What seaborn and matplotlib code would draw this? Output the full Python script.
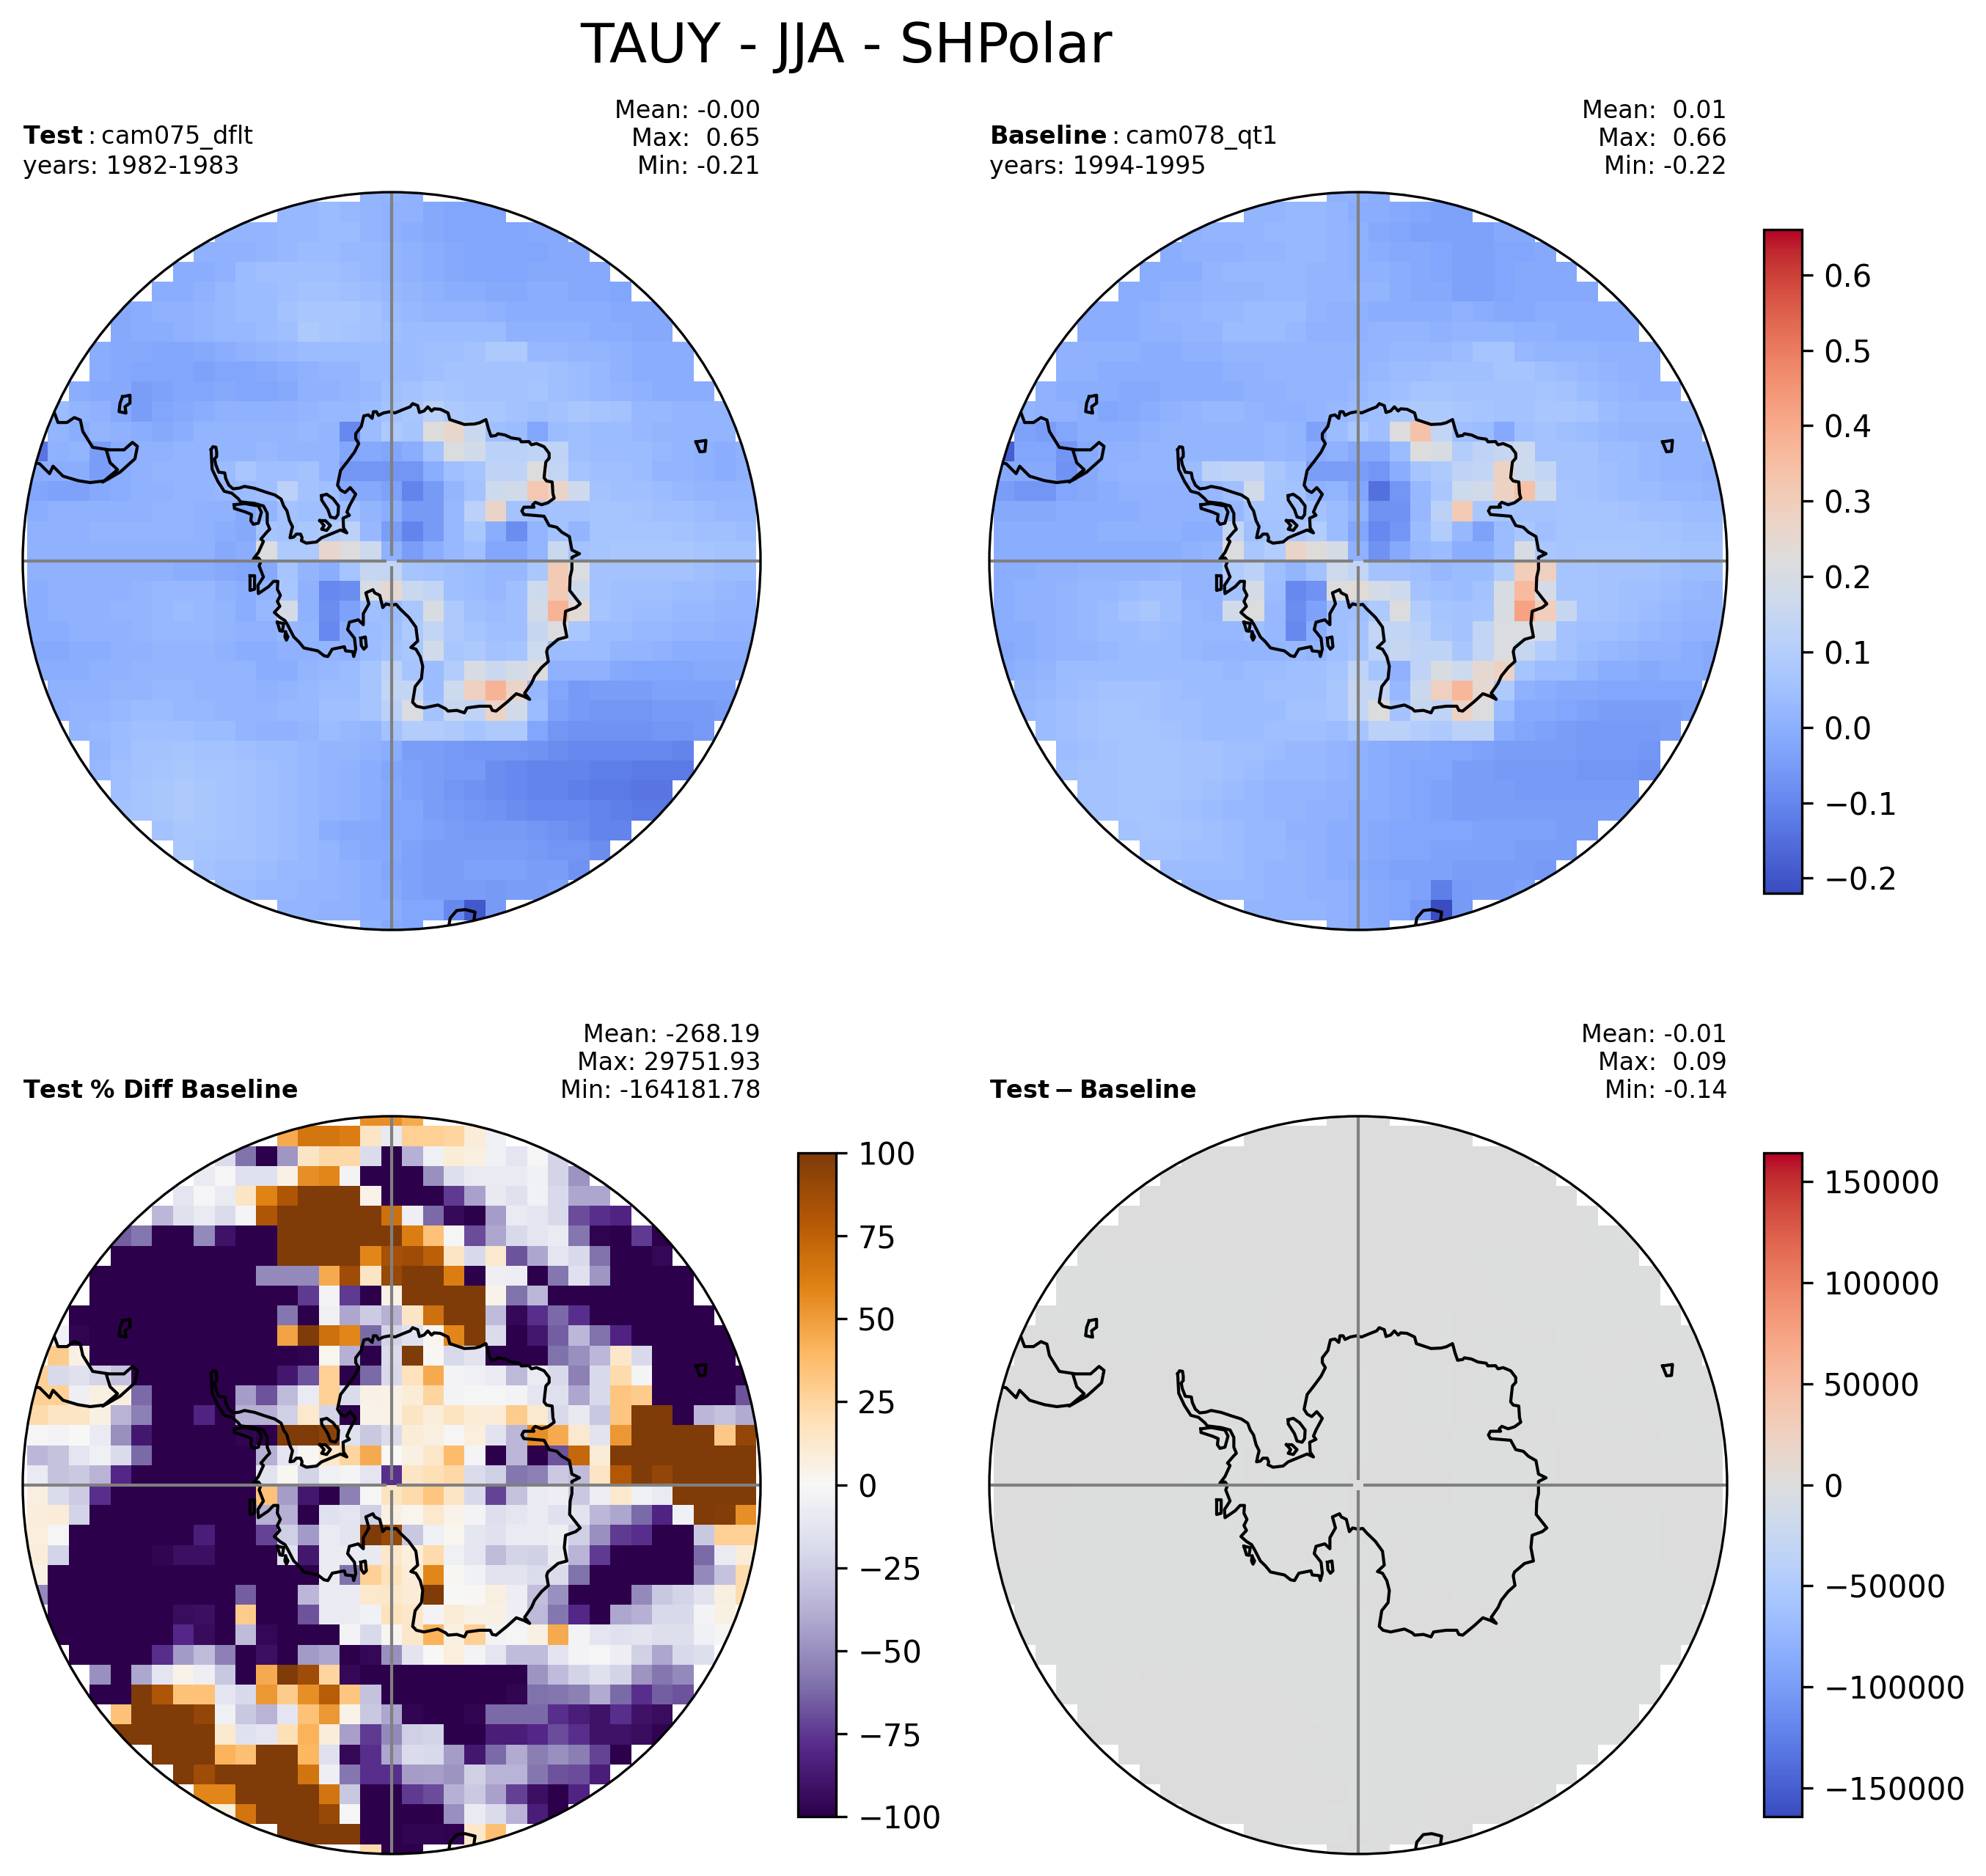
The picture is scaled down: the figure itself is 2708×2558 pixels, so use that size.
import numpy as np
import matplotlib
matplotlib.use('Agg')
import matplotlib.pyplot as plt
from matplotlib.patches import Circle
import seaborn as sns

# ========== data ==========
# rows top to bottom, only the cells inside the map, centred on column 17 of 35
# TAUY test and baseline in hundredths
test_vals = [
 [3,3,2],
 [4,4,5,4,3,2,2,0,-1,-1,-1],
 [3,3,3,4,4,5,5,3,2,1,0,-1,-1,-1,-1,0,0],
 [2,2,2,3,4,5,5,4,4,3,2,1,0,-1,-1,-1,-1,0,0],
 [1,1,2,5,6,6,6,6,5,4,3,2,1,0,-1,-1,-1,0,0,0,0],
 [1,1,2,4,5,5,6,7,7,6,5,4,3,2,1,1,0,0,1,1,0,0,-1],
 [0,1,2,2,3,4,5,5,7,9,9,9,7,5,4,3,3,3,2,1,1,1,1,1,0,0,0],
 [0,1,1,2,3,4,4,5,6,10,9,8,7,6,5,5,5,5,5,2,2,2,2,1,1,0,0],
 [1,0,0,-1,-1,0,1,2,3,4,5,5,5,5,5,5,6,6,7,10,10,4,4,3,3,2,1,1,1],
 [1,0,-1,-1,-1,-2,-1,-1,0,1,2,3,3,5,5,5,6,7,7,7,7,7,6,5,4,2,1,1,1],
 [1,0,0,-3,-2,-1,-1,0,-1,-1,0,2,2,3,4,6,7,9,8,7,7,7,8,6,5,4,3,2,1,1,1],
 [5,3,2,0,-3,-1,0,1,2,2,2,2,3,4,4,5,7,9,12,10,9,9,7,6,7,9,8,7,4,4,3,3,3],
 [3,1,3,2,1,0,1,3,3,3,3,3,4,3,-8,5,10,8,22,26,16,6,5,-1,5,6,5,5,4,3,3,3,3],
 [-12,2,3,-3,1,2,2,3,3,3,3,4,3,3,3,-1,0,-1,1,7,21,18,12,12,13,13,6,5,5,5,4,3,2,1,2],
 [1,1,1,-3,1,2,3,3,3,5,9,6,6,7,3,-5,-5,-5,-5,1,6,8,13,13,22,14,8,6,6,5,3,3,2,1,2],
 [-1,-2,-2,0,1,2,2,3,3,4,5,6,12,7,6,0,0,-2,-9,-4,3,7,17,18,32,27,17,7,6,6,5,4,3,3,3],
 [1,2,2,2,2,2,3,3,2,2,0,3,7,6,6,6,3,1,-4,-4,4,12,27,7,6,7,7,8,8,7,6,6,5,4,4],
 [2,2,2,3,3,3,3,3,2,1,0,8,7,9,11,12,4,-3,-9,-4,4,9,1,-7,3,7,3,8,8,8,8,7,6,6,5],
 [2,2,2,2,2,2,2,2,2,0,1,21,10,10,26,22,17,2,-3,1,4,6,-1,-1,3,16,7,8,9,9,9,9,8,7,7],
 [2,2,2,2,2,2,2,1,1,0,-1,0,8,3,1,8,15,14,8,7,6,5,4,4,9,31,21,7,7,7,7,7,6,5,5],
 [1,2,2,2,2,3,4,4,4,2,1,3,9,2,-8,-7,20,25,16,14,6,5,4,6,17,31,17,7,6,6,6,5,5,4,3],
 [1,2,2,2,3,3,4,5,4,3,1,4,19,2,-7,-2,6,5,9,20,10,6,5,6,18,38,24,8,6,5,5,4,4,3,3],
 [1,1,2,2,2,3,4,4,4,3,2,2,4,3,-8,1,5,6,10,14,10,8,6,6,15,21,9,5,5,4,4,3,3,2,2],
 [0,0,1,1,2,2,3,3,3,2,1,1,2,2,3,2,5,7,9,18,9,10,7,8,17,5,5,5,3,3,2,1,1,1,1],
 [1,1,1,2,2,3,3,3,3,3,3,1,1,3,4,5,8,13,8,5,11,20,16,19,22,2,2,2,0,-1,-1,-1,0,0,0],
 [2,2,2,3,3,4,4,3,3,3,2,3,4,5,5,8,14,14,5,17,29,38,27,4,-1,-4,-3,-3,-3,-2,-2,-2,-2],
 [2,3,3,4,5,5,4,4,3,3,3,4,4,6,6,8,12,21,7,15,13,28,18,5,-2,-4,-5,-5,-5,-4,-4,-4,-3],
 [3,4,5,6,6,6,5,5,3,2,2,3,5,4,3,7,11,11,10,8,10,10,-1,-5,-6,-6,-6,-6,-5,-5,-4],
 [3,5,7,7,8,7,7,6,5,5,4,3,3,2,1,-3,-3,-4,-5,-5,-5,-6,-7,-8,-8,-8,-8,-8,-9],
 [4,6,7,8,9,8,8,7,6,5,4,3,2,1,-1,-2,-3,-4,-4,-7,-8,-9,-9,-9,-10,-10,-11,-11,-11],
 [6,8,9,10,9,8,7,6,5,4,3,2,1,0,-2,-3,-5,-6,-7,-8,-9,-9,-10,-11,-11,-12,-12],
 [7,8,9,10,9,8,7,6,5,4,3,2,1,-1,-1,-3,-4,-5,-6,-7,-8,-8,-8,-9,-10,-11,-11],
 [7,9,9,8,7,6,5,4,1,0,0,-1,-1,-2,-3,-4,-4,-4,-5,-6,-7,-9,-9],
 [9,8,7,7,6,5,4,3,1,0,0,-2,-3,-3,-3,-3,-3,-4,-5,-5,-7],
 [7,6,6,5,4,4,3,2,1,-1,-2,-3,-3,-2,-2,-2,-3,-3,-6],
 [5,5,4,4,3,3,2,1,0,-2,-3,-3,-3,-4,-3,-3,-2],
 [3,3,2,2,1,1,-1,-1,-8,-18,-4],
 [2,0,-1],
]
base_vals = [
 [2,2,1],
 [3,3,4,4,3,1,1,0,-1,-2,-2],
 [2,3,3,3,4,4,4,3,2,0,-1,-2,-2,-2,-2,0,0],
 [1,2,2,2,3,3,4,4,3,2,1,0,0,-1,-2,-2,-1,-1,0],
 [1,1,1,3,4,4,4,4,3,3,2,2,1,0,-1,-2,-2,-1,0,0,0],
 [1,1,2,2,3,3,3,4,4,3,3,3,3,1,0,0,-2,-2,-1,0,0,0,0],
 [1,1,1,2,3,3,4,4,5,5,5,3,2,2,1,1,1,1,2,1,0,0,1,1,1,1,1],
 [1,1,1,2,2,3,3,5,5,5,4,2,2,2,3,3,3,2,3,3,3,2,2,1,1,1,1],
 [2,2,2,2,1,1,2,2,3,3,3,3,3,3,3,3,4,4,4,5,8,8,4,3,3,3,2,2,2],
 [2,2,1,1,1,1,1,1,2,2,3,3,3,3,3,4,5,5,6,6,6,8,8,6,5,4,3,2,2],
 [2,1,1,1,0,0,1,1,1,1,2,2,3,3,3,4,5,6,8,8,7,7,7,7,8,7,5,4,3,2,2],
 [3,2,2,1,-1,0,1,2,3,4,4,3,2,2,3,4,5,6,9,10,10,9,8,7,7,9,9,8,5,4,4,4,4],
 [-2,-3,-1,1,1,1,2,3,3,3,3,3,4,3,-2,5,9,6,22,34,14,6,5,0,6,7,6,5,4,3,3,3,3],
 [-17,-1,-1,-5,0,2,2,3,3,3,3,3,3,4,3,1,2,0,0,5,22,20,11,13,15,17,7,7,7,5,5,4,3,3,3],
 [0,0,0,-6,0,2,3,3,3,5,12,13,13,9,6,-3,-3,-3,-5,1,8,10,13,14,28,17,14,7,7,6,5,4,3,3,2],
 [-3,-5,-5,-1,0,1,2,2,2,2,4,6,18,8,7,2,3,-1,-13,-5,4,9,17,18,28,34,17,8,7,6,5,5,4,4,3],
 [0,0,0,1,1,1,1,2,2,2,2,4,8,8,7,7,5,2,-6,-6,4,12,31,9,8,7,7,8,8,8,7,6,6,5,5],
 [1,1,1,1,1,2,2,2,2,1,1,14,6,7,9,11,5,-1,-8,-5,5,11,4,-2,5,9,6,8,8,8,8,8,7,6,6],
 [1,1,1,1,1,1,1,1,1,2,3,22,9,11,27,23,19,2,-6,0,4,5,1,1,5,20,9,8,9,9,9,8,8,7,7],
 [1,1,2,2,3,3,3,3,4,3,3,11,12,6,3,7,17,14,7,7,6,4,5,5,11,30,29,8,8,7,7,7,6,5,5],
 [1,2,2,3,4,4,5,6,6,3,3,7,19,5,-8,-6,22,24,19,17,7,6,5,7,20,36,19,8,8,7,6,6,5,4,3],
 [1,2,2,3,4,5,7,9,6,4,3,18,22,4,-7,-2,6,6,10,22,11,8,7,8,20,42,30,15,8,7,6,5,4,3,3],
 [1,1,2,3,4,5,5,6,5,4,4,4,6,4,-8,1,6,7,14,14,12,9,7,14,21,21,18,7,6,6,5,4,3,2,2],
 [0,1,2,3,3,4,5,5,5,4,3,3,3,3,4,3,6,8,12,15,13,13,9,14,21,15,11,7,5,4,3,2,2,1,0],
 [1,2,3,5,5,5,5,5,5,5,5,4,5,5,6,6,8,13,8,2,13,20,17,25,28,8,5,5,3,1,1,0,1,1,0],
 [3,4,5,6,7,7,7,6,5,5,5,5,6,6,6,9,15,14,4,16,29,37,25,10,2,1,0,0,-1,-1,-1,-1,-1],
 [4,5,6,7,8,8,7,6,6,5,5,5,5,7,7,9,14,22,7,15,13,28,21,5,0,0,-1,-2,-3,-3,-3,-3,-2],
 [5,6,7,8,8,8,7,6,5,5,5,6,6,6,5,8,12,12,11,10,12,12,1,-1,-2,-3,-4,-4,-4,-4,-3],
 [5,6,7,8,8,8,7,7,6,6,5,4,4,3,2,1,0,0,-1,-1,-2,-3,-3,-3,-3,-4,-4,-4,-5],
 [6,7,7,8,8,8,7,7,6,5,4,4,4,3,2,1,0,-1,-1,-3,-3,-4,-4,-4,-4,-5,-5,-5,-6],
 [7,7,8,8,8,7,6,5,4,3,3,3,2,2,1,0,-1,-2,-3,-3,-3,-4,-4,-4,-4,-4,-4],
 [7,7,8,8,7,6,5,4,4,3,3,2,2,1,1,0,-1,-2,-3,-3,-3,-3,-3,-3,-3,-3,-3],
 [7,8,8,7,6,5,4,4,2,2,1,1,0,-1,-1,-1,-1,-2,-2,-2,-2,-3,-3],
 [7,7,6,6,5,4,4,3,2,1,1,0,-1,-1,-2,-2,-2,-2,-3,-3,-3],
 [5,5,5,5,4,3,3,2,1,0,-1,-2,-2,-2,-3,-3,-3,-3,-4],
 [4,4,4,4,3,3,2,2,1,0,-1,-2,-10,-4,-3,-3,-2],
 [3,3,3,3,2,1,0,-1,-4,-22,-4],
 [2,1,0],
]
# percent difference
pct_vals = [
 [55,55,45],
 [45,65,65,62,15,-10,28,28,25,10,-5],
 [-18,-60,-100,-47,15,24,24,-18,-100,-38,-5,10,7,-5,-12,-1,-22],
 [-8,-1,-15,-15,5,55,58,-3,-100,-100,-100,-50,-17,-8,-8,-8,-4,-22,-48],
 [-12,-1,-9,15,60,82,100,100,100,4,-100,-100,-100,-75,-43,-10,-15,-4,-20,-42,-42],
 [-35,-15,-9,-18,-2,82,100,100,100,100,100,68,-6,-62,-95,-100,-45,-8,-12,-20,-70,-78,-82],
 [-65,-58,-100,-100,-52,-90,-100,-100,100,100,100,100,100,100,62,35,-1,-70,-42,-20,-12,-8,-58,-98,-100,-75,-100],
 [-100,-100,-100,-100,-100,-100,-100,-100,100,100,100,100,58,85,88,76,15,-20,12,-68,-42,-12,-20,-60,-100,-100,-96],
 [-100,-100,-100,-100,-100,-100,-100,-100,-52,-52,-52,45,88,15,90,100,100,62,-100,-6,-7,-100,-58,-15,-47,-100,-100,-100,-100],
 [-100,-100,-100,-100,-100,-100,-100,-100,-100,-100,-75,-3,-75,-100,5,100,100,100,100,4,-60,-35,-100,-100,-100,-100,-100,-100,-100],
 [-100,-100,-100,-100,-100,-100,-100,-100,-100,-100,-58,-100,-5,-42,-26,-38,15,68,100,100,-33,-96,-78,-62,-78,-100,-100,-100,-100,-100,-100],
 [-4,-97,-100,-100,-100,-100,-100,-100,-100,-100,-100,48,100,68,58,-62,-22,-15,2,58,100,-18,-100,-88,-65,-35,-60,-82,-100,-100,-100,-100,-100],
 [30,6,-100,-100,-100,-100,-100,-100,-100,-100,-100,-100,-98,3,-38,-100,-18,100,1,-20,-14,-100,-100,-100,-60,-50,-35,14,-20,-100,-100,-100,-100],
 [28,-20,-15,-22,-30,-100,-100,-100,-100,-100,-100,-100,-88,-68,28,-100,-62,-20,18,45,-3,-5,-8,-34,-8,-20,-55,-20,22,-2,-100,-100,-100,-100,-100],
 [28,28,-6,7,7,-62,-100,-100,-100,-100,-45,-68,-33,-8,28,-18,5,5,10,25,-3,-1,-1,-3,-12,-16,-42,-20,33,30,-100,-100,-100,-100,-68],
 [22,15,15,6,-36,-55,-100,-100,-82,-100,-38,-38,-25,13,-22,-100,4,5,15,9,17,10,10,30,12,-20,-10,-28,33,100,100,-100,-35,-30,-40],
 [-1,-3,0,-8,-50,-88,-100,-100,-100,-100,-97,-100,100,100,95,-15,-28,-18,10,7,-1,8,-14,-35,55,45,12,-14,52,100,100,100,100,32,92],
 [-35,-30,-12,-5,-18,-62,-100,-100,-100,-100,-100,-38,-12,1,14,25,45,0,6,14,38,-2,-100,-35,-100,-68,72,10,100,100,100,100,100,100,100],
 [-9,-30,-27,-36,-80,-100,-100,-100,-100,-100,-100,-14,1,-22,-5,-2,-12,-78,15,20,24,-18,-25,-58,-55,-27,-33,15,80,100,92,100,100,100,100],
 [7,-18,-26,-78,-100,-100,-100,-100,-100,-100,-100,35,-45,-88,-100,-55,-1,17,22,33,15,-20,-72,-30,-8,-7,-28,-7,13,-5,-9,100,100,100,100],
 [9,10,-22,-100,-100,-100,-100,-100,-100,-100,-100,-38,-38,-100,-15,-12,-25,6,3,13,4,-3,-17,-12,-8,-15,-14,-35,-42,-62,-82,-4,100,98,55],
 [8,-1,-100,-100,-100,-100,-100,-100,-85,-100,-100,-72,-25,-46,-8,-13,100,90,-28,-5,3,-11,-15,-8,-8,-7,-25,-50,-75,-78,-100,-100,-28,28,28],
 [9,-22,-100,-100,-100,-100,-97,-92,-92,-100,-100,-100,-15,-88,-9,-9,-10,14,8,22,-5,-12,-33,-22,-24,-10,-36,-75,-100,-100,-100,-100,-62,-8,10],
 [5,-100,-100,-100,-100,-100,-100,-100,-100,-100,-100,-100,-100,-100,-8,-60,28,18,10,58,1,-4,-14,-14,-18,-18,-60,-100,-100,-100,-100,-100,-52,-30,22],
 [-52,-100,-100,-100,-100,-100,-100,-100,-100,-100,-65,-100,-100,-35,-8,-8,13,14,10,100,0,1,7,-7,-32,-50,-100,-100,-100,-52,-28,-22,-14,7,22],
 [-100,-100,-100,-100,-100,-100,-93,-92,-100,30,-100,-100,-68,-9,-9,-4,18,14,-3,10,6,6,-7,-34,-58,-80,-100,-42,-38,-20,-20,-3,6],
 [-100,-100,-100,-100,-100,-100,-80,-94,-100,-33,-96,-100,-100,-100,-3,-20,2,14,42,7,28,-3,-1,6,45,-3,-12,-15,-13,-17,-17,-5,-1],
 [-100,-100,-100,-100,-78,-46,-33,-55,-100,-92,-100,-46,-42,-100,-96,-50,-13,0,8,-3,-12,-33,-33,-13,-3,-1,-7,-24,-42,-20,-17],
 [-50,-100,-42,-12,4,-6,-28,-100,45,100,88,25,-96,-100,-100,-100,-100,-100,-100,-100,-100,-48,-33,-22,-15,-22,-48,-58,-52],
 [-100,-100,100,82,35,35,-12,-20,52,30,55,78,33,-30,-100,-100,-100,-100,-100,-100,-97,-60,-58,-55,-40,-62,-78,-65,-68],
 [35,100,100,100,92,-5,-28,-36,-12,35,52,4,-28,-42,-97,-100,-100,-97,-62,-62,-62,-78,-85,-90,-78,-90,-93],
 [100,100,100,100,100,12,-15,-12,20,42,9,-44,-75,-52,-25,-22,-100,-100,-85,-85,-80,-70,-78,-90,-90,-93,-98],
 [100,100,100,42,36,100,100,40,-15,-96,-78,-42,-18,-20,-45,-88,-62,-40,-56,-50,-56,-72,-100],
 [100,88,100,100,100,100,66,-6,-58,-78,-78,-45,-44,-48,-24,-36,-36,-58,-68,-70,-85],
 [58,58,100,100,100,100,66,-28,-100,-100,-75,-70,-38,-27,-43,-73,-92,-100,-82],
 [8,66,100,100,100,90,-1,-100,-100,-100,-100,-50,-8,-18,-36,-85,-100],
 [100,100,100,100,-100,-100,-97,-97,-98,14,36],
 [22,-100,-100],
]

titles_left = [r"$\bf{Test}\:$:$\:$cam075_dflt" + "\nyears: 1982-1983",
               r"$\bf{Baseline}\:$:$\:$cam078_qt1" + "\nyears: 1994-1995",
               r"$\bf{Test}$ $\bf{\%\ Diff}$ $\bf{Baseline}$",
               r"$\bf{Test} - \bf{Baseline}$"]
titles_right = ["Mean: -0.00\nMax:  0.65\nMin: -0.21",
                "Mean:  0.01\nMax:  0.66\nMin: -0.22",
                "Mean: -268.19\nMax: 29751.93\nMin: -164181.78",
                "Mean: -0.01\nMax:  0.09\nMin: -0.14"]
field_ticks = [-0.2, -0.1, 0.0, 0.1, 0.2, 0.3, 0.4, 0.5, 0.6]
pct_ticks = [-100, -75, -50, -25, 0, 25, 50, 75, 100]
diff_ticks = [-150000, -100000, -50000, 0, 50000, 100000, 150000]

# coastlines
coast_main = [(18,280),(25,268),(37,270),(40,290),(40,308),(32,318),(36,340),(48,372),(72,375),(76,398),(88,425),(105,440),
 (130,437),(150,430),(190,438),(230,452),(270,465),(295,482),(305,510),(318,530),(328,570),(340,595),(335,615),(330,640),
 (345,637),(355,625),(372,625),(378,640),(375,652),(395,662),(435,657),(455,640),(490,625),(530,608),(555,620),(542,600),
 (540,560),(565,548),(555,535),(565,510),(590,462),(568,435),(548,455),(530,445),(518,425),(530,365),(560,325),(585,290),
 (602,255),(590,235),(590,215),(612,185),(622,142),(640,138),(655,152),(660,125),(672,125),(680,140),(700,130),(725,125),
 (745,130),(780,115),(805,105),(815,92),(835,100),(842,128),(860,122),(875,105),(890,122),(900,113),(925,115),(955,130),
 (962,157),(1000,170),(1020,177),(1060,175),(1080,170),(1105,157),(1115,195),(1125,225),(1145,222),(1152,215),(1180,220),
 (1205,232),(1238,237),(1245,248),(1275,247),(1285,260),(1305,255),(1335,268),(1355,295),(1355,315),(1342,330),(1338,365),
 (1335,395),(1345,408),(1367,412),(1370,460),(1375,478),(1350,497),(1325,505),(1300,495),(1290,505),(1295,515),(1255,515),
 (1247,530),(1255,545),(1290,548),(1335,552),(1355,590),(1385,597),(1405,617),(1435,635),(1445,690),(1475,705),(1445,720),
 (1445,770),(1438,800),(1436,855),(1478,910),(1460,925),(1420,940),(1415,990),(1425,1045),(1390,1055),(1350,1090),(1345,1105),
 (1352,1145),(1325,1170),(1298,1205),(1285,1235),(1258,1275),(1278,1300),(1255,1288),(1225,1277),(1190,1310),(1145,1348),
 (1130,1345),(1122,1328),(1080,1328),(1030,1335),(1020,1355),(990,1345),(955,1348),(945,1338),(915,1323),(860,1335),(830,1328),
 (815,1312),(825,1248),(850,1215),(855,1165),(845,1125),(828,1095),(808,1088),(835,1062),(828,1005),(800,965),(765,930),
 (750,912),(730,915),(710,910),(697,925),(685,875),(665,865),(658,852),(630,865),(642,910),(620,950),(620,995),(600,975),
 (565,985),(558,1015),(585,1050),(590,1095),(582,1125),(578,1105),(550,1102),(545,1085),(497,1095),(480,1125),(465,1122),
 (440,1102),(385,1090),(365,1065),(345,1045),(320,995),(310,978),(290,965),(268,945),(290,920),(280,900),(292,875),(280,850),
 (282,818),(265,818),(245,840),(205,868),(203,835),(225,800),(208,755),(215,735),(205,722),(185,727),(205,700),(225,655),
 (215,645),(240,615),(250,605),(240,580),(240,540),(225,510),(190,500),(135,493),(125,480),(100,458),(70,450),(45,410),
 (22,360),(18,280)]
coast_inner = [
 [(110,505),(150,500),(205,510),(217,535),(205,580),(185,585),(175,570),(178,545),(155,535),(110,520),(110,505)],
 [(455,468),(475,462),(500,480),(522,510),(520,545),(510,560),(490,555),(480,525),(455,485),(455,468)],
 [(448,570),(470,570),(490,590),(475,610),(455,605),(465,590),(448,570)],
 [(172,795),(190,795),(190,850),(172,855),(172,795)],
 [(280,985),(305,990),(300,1022),(290,1020),(280,985)],
 [(312,1025),(322,1045),(316,1058),(310,1045),(312,1025)],
 [(610,1050),(628,1045),(632,1085),(622,1095),(612,1080),(610,1050)],
]
coast_outer = [
 [(78,478),(85,497),(103,497),(118,487),(130,492),(135,515),(155,547),(188,552),(218,552),(235,537),(245,545),(240,570),(210,597),(175,617),(205,592),(190,578),(183,555)],
 [(38,578),(48,580),(68,600),(75,585),(95,605),(125,614),(150,618),(175,615)],
 [(215,445),(230,442),(230,458),(220,465),(222,478),(208,475),(210,458),(215,445)],
 [(1370,536),(1390,533),(1388,555),(1378,556),(1370,536)],
 [(872,1512),(875,1495),(888,1480),(905,1478),(925,1483),(922,1505)],
]

# ========== layout, in pixels of the 2708x2558 figure ==========
W, H = 2708, 2558
DIAM = 1006
CELL_W, CELL_H = 28.4, 27.2
panel_pos = [(31, 262), (1349, 262), (31, 1522), (1349, 1522)]
cbar_pos = [None, (2405, 313), (1088, 1572), (2405, 1572)]
CB_W, CB_H = 52, 905

def px_axes(fig, left, top, w, h):
    return fig.add_axes([left / W, 1 - (top + h) / H, w / W, h / H])

def to_grid(rows):
    grid = np.full((38, 35), np.nan)
    for r, vals in enumerate(rows):
        lo = 17 - len(vals) // 2
        grid[r, lo:lo + len(vals)] = vals
    return grid

test_grid = to_grid(test_vals) / 100
base_grid = to_grid(base_vals) / 100
pct_grid = to_grid(pct_vals)
diff_grid = test_grid - base_grid

# background blues came out a bit pale when read by eye
test_grid = np.where(test_grid < 0.12, test_grid - 0.015, test_grid)
base_grid = np.where(base_grid < 0.12, base_grid - 0.015, base_grid)

half_x = DIAM / 2 / CELL_W
half_y = DIAM / 2 / CELL_H

def cell_xy(ux, uy):
    # map units (-1..1) to heatmap cell coordinates
    return 17.5 + np.asarray(ux) * half_x, 19 - np.asarray(uy) * half_y

def plot_coast(ax, clip):
    segs = []
    for seg in [coast_main] + coast_inner:
        a = np.array(seg, dtype=float)
        segs.append(((a[:, 0] - 732) / 1459, (735 - a[:, 1]) / 1507))
    for seg in coast_outer:
        a = np.array(seg, dtype=float)
        segs.append(((a[:, 0] - 757) / 743, (776 - a[:, 1]) / 743))
    for ux, uy in segs:
        x, y = cell_xy(ux, uy)
        line, = ax.plot(x, y, color='black', lw=1.0, zorder=3)
        line.set_clip_path(clip)

def plot_grid_lines(ax):
    gap = 7.2 / (DIAM / 2)
    for ux, uy in [((-1, -gap), (0, 0)), ((gap, 1), (0, 0)), ((0, 0), (gap, 1)), ((0, 0), (-1, -gap))]:
        x, y = cell_xy(ux, uy)
        ax.plot(x, y, color='gray', lw=1.0, zorder=4, solid_capstyle='butt')

def draw_panel(fig, i, grid, cmap, vmin, vmax, ticks):
    left, top = panel_pos[i]
    ax = px_axes(fig, left, top, DIAM, DIAM)
    cax = None
    if cbar_pos[i] is not None:
        cax = px_axes(fig, cbar_pos[i][0], cbar_pos[i][1], CB_W, CB_H)
    sns.heatmap(grid, ax=ax, cmap=cmap, vmin=vmin, vmax=vmax, cbar=cax is not None, cbar_ax=cax,
                xticklabels=False, yticklabels=False)
    for s in ax.spines.values():
        s.set_visible(False)
    clip = Circle((0.5, 0.5), 0.5, transform=ax.transAxes, fill=False, ec='black', lw=0.8, zorder=5, clip_on=False)
    ax.add_patch(clip)
    ax.collections[0].set_clip_path(clip)
    plot_coast(ax, clip)
    plot_grid_lines(ax)
    ax.set_xlim(17.5 - half_x, 17.5 + half_x)
    ax.set_ylim(19 + half_y, 19 - half_y)
    ax.text(0, 1.0175, titles_left[i], transform=ax.transAxes, ha='left', va='bottom', fontsize=8)
    ax.text(1, 1.0175, titles_right[i], transform=ax.transAxes, ha='right', va='bottom', fontsize=8, multialignment='right')
    if cax is not None:
        cb = ax.collections[0].colorbar
        cb.set_ticks(ticks)
        cb.ax.tick_params(labelsize=10, length=3.5, width=0.8)
        cb.outline.set_visible(True)
        cb.outline.set_linewidth(0.8)
        cb.outline.set_edgecolor('black')

# ========== figure ==========
fig = plt.figure(figsize=(W / 300, H / 300), dpi=300)
draw_panel(fig, 0, test_grid, 'coolwarm', -0.22, 0.66, field_ticks)
draw_panel(fig, 1, base_grid, 'coolwarm', -0.22, 0.66, field_ticks)
draw_panel(fig, 2, pct_grid, 'PuOr_r', -100, 100, pct_ticks)
draw_panel(fig, 3, diff_grid, 'coolwarm', -164181.78, 164181.78, diff_ticks)
fig.text(1154 / W, 1 - 64 / H, 'TAUY - JJA - SHPolar', ha='center', va='center', fontsize=18)
fig.savefig('out.png', dpi=300)
